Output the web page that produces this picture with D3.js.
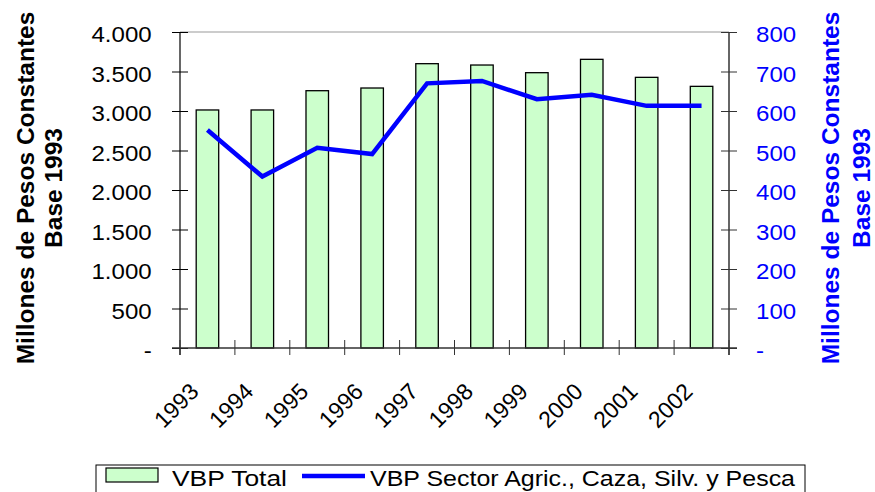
<!DOCTYPE html>
<html><head><meta charset="utf-8">
<script src="https://cdn.jsdelivr.net/npm/d3@7"></script>
<style>body{margin:0;background:#fff}svg{display:block}text{font-family:"Liberation Sans",Arial,sans-serif}</style>
</head><body><svg id="c" width="875" height="492"></svg>
<script>
const years = ["1993","1994","1995","1996","1997","1998","1999","2000","2001","2002"];
const vbpTotal = [3013, 3013, 3257, 3291, 3599, 3582, 3485, 3654, 3426, 3312];
const vbpAgro = [552, 434, 507, 491, 670, 676, 630, 641, 613, 613];
const leftTicks = [0,500,1000,1500,2000,2500,3000,3500,4000];
const rightTicks = [0,100,200,300,400,500,600,700,800];
const seriesNames = ["VBP Total","VBP Sector Agric., Caza, Silv. y Pesca"];
const axisTitle = ["Millones de Pesos Constantes","Base 1993"];

const svg = d3.select("#c");
const L=180, R=729, T=32, B=348;
const x = d3.scaleBand().domain(years).range([L,R]).padding(0);
const yL = d3.scaleLinear().domain([0,4000]).range([B,T]);
const yR = d3.scaleLinear().domain([0,800]).range([B,T]);
const loc = d3.formatLocale({decimal:",",thousands:".",grouping:[3],currency:["$",""]});
const fmt = v => v===0 ? "-" : loc.format(",")(v);
const bw = x.bandwidth();
const SX = 1.12;

// top border
svg.append("line").attr("x1",L).attr("x2",R).attr("y1",T).attr("y2",T).attr("stroke","#999").attr("stroke-width",1);

// bars
svg.append("g").selectAll("rect").data(years).join("rect")
  .attr("x",d=>x(d)+bw*0.295).attr("width",bw*0.41)
  .attr("y",(d,i)=>yL(vbpTotal[i])).attr("height",(d,i)=>B-yL(vbpTotal[i]))
  .attr("fill","#CCFFCC").attr("stroke","#000").attr("stroke-width",1.3);

// left axis
const gl = svg.append("g").attr("transform",`translate(${L},0)`)
  .call(d3.axisLeft(yL).tickValues(leftTicks).tickFormat(fmt).tickSize(8).tickPadding(19).tickSizeOuter(0));
gl.select(".domain").remove();
gl.selectAll(".tick line").attr("x1",8).attr("stroke","#000");
gl.selectAll(".tick text").attr("font-size",21.5).attr("fill","#000")
  .attr("x",-28.3/SX).attr("dy","0.46em").attr("transform",`scale(${SX},1)`);
svg.append("line").attr("x1",L).attr("x2",L).attr("y1",T).attr("y2",B+7).attr("stroke","#000").attr("stroke-width",1.2);

// right axis
const gr = svg.append("g").attr("transform",`translate(${R},0)`)
  .call(d3.axisRight(yR).tickValues(rightTicks).tickFormat(fmt).tickSize(8).tickPadding(19).tickSizeOuter(0));
gr.select(".domain").remove();
gr.selectAll(".tick line").attr("x1",-8).attr("stroke","#333");
gr.selectAll(".tick text").attr("font-size",21.5).attr("fill","#0000FF")
  .attr("x",27/SX).attr("dy","0.46em").attr("transform",`scale(${SX},1)`);
svg.append("line").attr("x1",R).attr("x2",R).attr("y1",T).attr("y2",B+7).attr("stroke","#333").attr("stroke-width",1.5);

// x axis
svg.append("line").attr("x1",L-8).attr("x2",R+8).attr("y1",B).attr("y2",B).attr("stroke","#333").attr("stroke-width",1.5);
const bounds = years.map(d=>x(d)).concat([R]);
svg.append("g").selectAll("line").data(bounds).join("line")
  .attr("x1",d=>d).attr("x2",d=>d).attr("y1",B-8).attr("y2",B+7).attr("stroke","#333").attr("stroke-width",1);
svg.append("g").selectAll("text").data(years).join("text")
  .attr("transform",d=>`translate(${x(d)+bw/2-7.5},393) rotate(-45)`)
  .attr("text-anchor","end").attr("font-size",23).attr("fill","#000").text(d=>d);

// line
svg.append("path").datum(vbpAgro)
  .attr("d", d3.line().x((d,i)=>x(years[i])+bw/2).y(d=>yR(d)))
  .attr("fill","none").attr("stroke","#0000FF").attr("stroke-width",4.5).attr("stroke-linejoin","miter");

// axis titles
function title(bx1, bx2, cy, color){
  const g = svg.append("g").attr("fill",color).attr("font-weight","bold").attr("font-size",24.5);
  g.append("text").attr("transform",`translate(${bx1},${cy}) rotate(-90)`).attr("text-anchor","middle").text(axisTitle[0]);
  g.append("text").attr("transform",`translate(${bx2},${cy}) rotate(-90)`).attr("text-anchor","middle").text(axisTitle[1]);
}
title(33.5, 62, 188, "#000");
title(839, 870, 188, "#0000FF");

// legend
svg.append("rect").attr("x",96).attr("y",465).attr("width",709).attr("height",40).attr("fill","#fff").attr("stroke","#000").attr("stroke-width",1);
svg.append("rect").attr("x",106).attr("y",468).attr("width",52).attr("height",14).attr("fill","#CCFFCC").attr("stroke","#000").attr("stroke-width",1.2);
svg.append("text").attr("x",172).attr("y",486).attr("font-size",21.5).attr("textLength",115).attr("lengthAdjust","spacingAndGlyphs").text(seriesNames[0]);
svg.append("line").attr("x1",302).attr("x2",365).attr("y1",476).attr("y2",476).attr("stroke","#0000FF").attr("stroke-width",4.5);
svg.append("text").attr("x",370).attr("y",486).attr("font-size",21.5).attr("textLength",425).attr("lengthAdjust","spacingAndGlyphs").text(seriesNames[1]);
</script></body></html>
